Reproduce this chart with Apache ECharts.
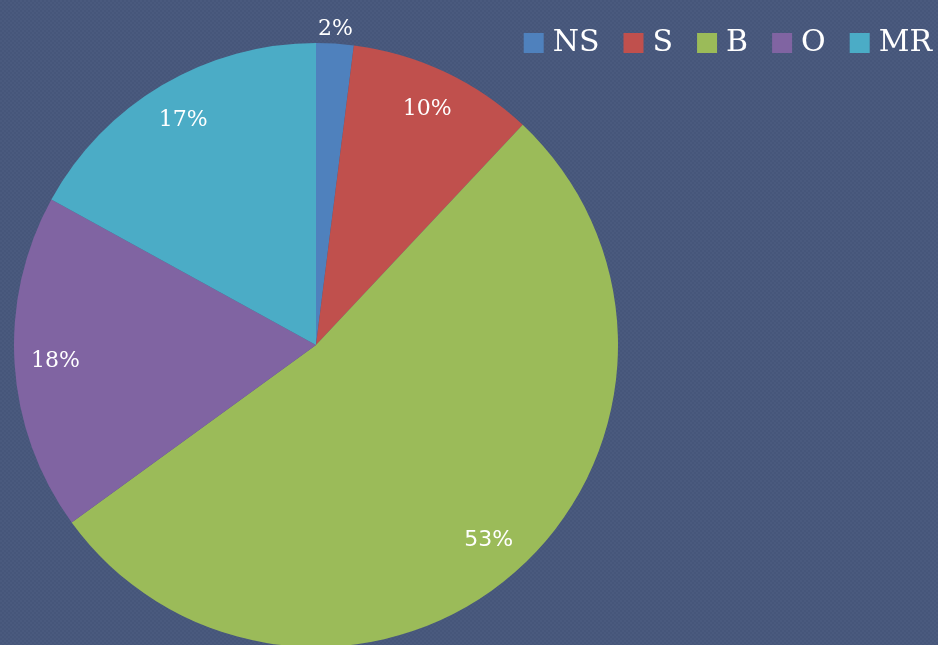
<!DOCTYPE html>
<html>
<head>
<meta charset="utf-8">
<script src="https://cdn.jsdelivr.net/npm/echarts@6/dist/echarts.min.js"></script>
<style>
  html, body { margin: 0; padding: 0; }
  #chart { width: 938px; height: 645px; }
</style>
</head>
<body>
<div id="chart"></div>
<script>
// data
const names = ['NS', 'S', 'B', 'O', 'MR']
const values = [2, 10, 53, 18, 17]
const colors = ['#4f81bd', '#c0504d', '#9bbb59', '#8064a2', '#4bacc6']

// dotted background texture
let makeBg = () => {
    let c = document.createElement('canvas')
    c.width = 4
    c.height = 4
    let ctx = c.getContext('2d')
    ctx.fillStyle = '#46567a'
    ctx.fillRect(0, 0, 4, 4)
    ctx.fillStyle = '#4a5a7e'
    ctx.fillRect(0, 0, 2, 2)
    ctx.fillRect(2, 2, 2, 2)
    return c
}

let chart = echarts.init(document.getElementById('chart'))

let pieData = names.map((n, i) => ({
    name: n,
    value: values[i],
    itemStyle: { color: colors[i] }
}))

// second, invisible ring only for placing the % labels near the rim
let labelData = names.map((n, i) => {
    let item = { name: n, value: values[i] }
    if (n === 'NS') {
        item.label = { offset: [3, -55] }
    }
    if (n === 'B') {
        item.label = { fontFamily: 'DejaVu Sans' }
    }
    return item
})

let option = {
    backgroundColor: { image: makeBg(), repeat: 'repeat' },
    animation: false,
    legend: {
        data: names,
        right: 1,
        top: 23,
        itemWidth: 20,
        itemHeight: 20,
        itemGap: 24,
        icon: 'rect',
        textStyle: {
            color: '#ffffff',
            fontSize: 30,
            fontFamily: 'DejaVu Serif',
            padding: [0, 0, 0, 4]
        }
    },
    series: [{
        type: 'pie',
        center: [316, 345],
        radius: 302,
        startAngle: 90,
        data: pieData,
        label: { show: false },
        labelLine: { show: false },
        emphasis: { disabled: true }
    }, {
        type: 'pie',
        center: [316, 345],
        radius: [214, 302],
        startAngle: 90,
        silent: true,
        data: labelData,
        itemStyle: { color: 'rgba(0,0,0,0)' },
        label: {
            show: true,
            position: 'inside',
            formatter: '{d}%',
            color: '#ffffff',
            fontSize: 22,
            fontFamily: 'DejaVu Serif'
        },
        labelLine: { show: false },
        emphasis: { disabled: true }
    }]
}

chart.setOption(option)
</script>
</body>
</html>
